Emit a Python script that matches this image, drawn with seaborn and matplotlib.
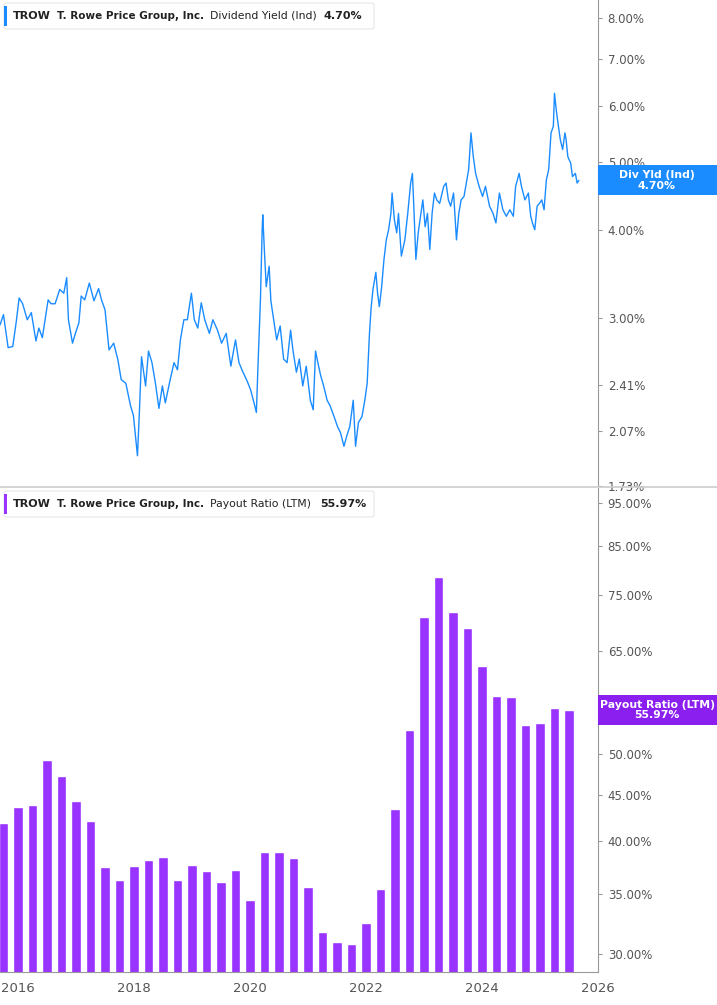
import matplotlib
matplotlib.use("Agg")
import matplotlib.pyplot as plt
import seaborn as sns
import pandas as pd
from matplotlib.ticker import FixedLocator, NullLocator, FixedFormatter

plt.rcParams["font.family"] = "Roboto"

yield_years = [2015.69, 2015.75, 2015.83, 2015.91, 2015.97, 2016.02, 2016.08, 2016.16, 2016.23, 2016.31, 2016.36, 2016.42, 2016.48, 2016.52, 2016.57, 2016.64, 2016.72, 2016.79, 2016.84, 2016.87, 2016.94, 2016.99, 2017.05, 2017.09, 2017.15, 2017.23, 2017.31, 2017.39, 2017.44, 2017.50, 2017.57, 2017.65, 2017.72, 2017.78, 2017.86, 2017.94, 2017.99, 2018.06, 2018.09, 2018.13, 2018.20, 2018.25, 2018.31, 2018.37, 2018.43, 2018.49, 2018.54, 2018.61, 2018.69, 2018.75, 2018.80, 2018.86, 2018.92, 2018.99, 2019.04, 2019.10, 2019.16, 2019.22, 2019.30, 2019.36, 2019.44, 2019.51, 2019.59, 2019.67, 2019.75, 2019.81, 2019.87, 2019.95, 2020.01, 2020.07, 2020.11, 2020.14, 2020.18, 2020.21, 2020.22, 2020.25, 2020.28, 2020.33, 2020.36, 2020.40, 2020.46, 2020.52, 2020.58, 2020.64, 2020.70, 2020.74, 2020.80, 2020.85, 2020.91, 2020.97, 2021.04, 2021.09, 2021.13, 2021.17, 2021.22, 2021.27, 2021.33, 2021.38, 2021.45, 2021.51, 2021.56, 2021.62, 2021.67, 2021.72, 2021.78, 2021.82, 2021.87, 2021.93, 2021.98, 2022.02, 2022.06, 2022.09, 2022.12, 2022.17, 2022.20, 2022.23, 2022.27, 2022.31, 2022.35, 2022.39, 2022.43, 2022.45, 2022.49, 2022.53, 2022.56, 2022.61, 2022.67, 2022.72, 2022.77, 2022.80, 2022.82, 2022.86, 2022.90, 2022.94, 2022.98, 2023.02, 2023.06, 2023.10, 2023.14, 2023.18, 2023.22, 2023.27, 2023.34, 2023.38, 2023.42, 2023.46, 2023.51, 2023.56, 2023.60, 2023.64, 2023.69, 2023.73, 2023.77, 2023.81, 2023.85, 2023.89, 2023.95, 2024.01, 2024.06, 2024.13, 2024.19, 2024.24, 2024.30, 2024.36, 2024.42, 2024.48, 2024.54, 2024.58, 2024.64, 2024.68, 2024.74, 2024.80, 2024.84, 2024.87, 2024.91, 2024.95, 2024.99, 2025.03, 2025.07, 2025.11, 2025.15, 2025.19, 2025.23, 2025.25, 2025.28, 2025.31, 2025.35, 2025.39, 2025.43, 2025.45, 2025.48, 2025.53, 2025.56, 2025.61, 2025.64, 2025.67]

yield_values = [2.93, 3.03, 2.72, 2.73, 2.96, 3.20, 3.14, 2.98, 3.05, 2.78, 2.90, 2.81, 3.03, 3.18, 3.14, 3.14, 3.29, 3.25, 3.42, 2.98, 2.76, 2.85, 2.95, 3.22, 3.18, 3.36, 3.17, 3.30, 3.18, 3.08, 2.70, 2.76, 2.62, 2.45, 2.42, 2.25, 2.18, 1.91, 2.17, 2.64, 2.40, 2.69, 2.59, 2.42, 2.23, 2.40, 2.27, 2.42, 2.59, 2.53, 2.79, 2.98, 2.98, 3.25, 2.98, 2.90, 3.15, 2.98, 2.85, 2.98, 2.88, 2.76, 2.85, 2.56, 2.79, 2.59, 2.52, 2.44, 2.37, 2.27, 2.20, 2.59, 3.18, 4.00, 4.20, 3.71, 3.32, 3.55, 3.17, 3.01, 2.79, 2.92, 2.62, 2.59, 2.88, 2.70, 2.51, 2.62, 2.40, 2.56, 2.29, 2.22, 2.69, 2.59, 2.48, 2.40, 2.29, 2.25, 2.17, 2.10, 2.06, 1.97, 2.04, 2.10, 2.29, 1.97, 2.13, 2.17, 2.29, 2.42, 2.85, 3.11, 3.29, 3.48, 3.25, 3.11, 3.32, 3.63, 3.87, 4.00, 4.22, 4.51, 4.13, 3.96, 4.22, 3.67, 3.87, 4.22, 4.66, 4.81, 4.41, 3.63, 3.96, 4.18, 4.41, 4.04, 4.22, 3.75, 4.22, 4.51, 4.41, 4.36, 4.61, 4.66, 4.41, 4.32, 4.51, 3.87, 4.22, 4.41, 4.46, 4.66, 4.87, 5.49, 5.08, 4.81, 4.61, 4.46, 4.61, 4.32, 4.22, 4.09, 4.51, 4.27, 4.18, 4.27, 4.18, 4.61, 4.81, 4.61, 4.41, 4.51, 4.18, 4.09, 4.00, 4.32, 4.36, 4.41, 4.27, 4.71, 4.87, 5.49, 5.61, 6.25, 5.92, 5.67, 5.37, 5.20, 5.49, 5.37, 5.08, 4.97, 4.76, 4.81, 4.66, 4.70]

payout_quarters = [2015.75 + 0.25 * i for i in range(40)]
payout_values = [41.9, 43.7, 43.9, 49.2, 47.3, 44.4, 42.1, 37.5, 36.2, 37.6,
                 38.1, 38.4, 36.2, 37.7, 37.1, 36.1, 37.2, 34.4, 38.9, 38.9,
                 38.3, 35.6, 31.7, 30.9, 30.8, 32.5, 35.4, 43.4, 53.2, 71.0,
                 78.6, 71.9, 69.0, 62.7, 58.0, 57.9, 53.9, 54.1, 56.3, 55.97]

yield_ticks = [1.73, 2.07, 2.41, 3.00, 4.00, 5.00, 6.00, 7.00, 8.00]
payout_ticks = [30, 35, 40, 45, 50, 65, 75, 85, 95]
x_ticks = [2016, 2018, 2020, 2022, 2024, 2026]

BLUE = "#1a8cff"
PURPLE = "#9933ff"
PURPLE_LBL = "#8a1ff0"
GREY = "#555555"

sns.set_style("white")
fig = plt.figure(figsize=(7.17, 10.05), dpi=100)
W, H = 717, 1005
ax1 = fig.add_axes([0, 1 - 486 / H, 598 / W, 486 / H])
ax2 = fig.add_axes([0, 1 - 972 / H, 598 / W, (972 - 488) / H])

df1 = pd.DataFrame({"year": yield_years, "val": yield_values})
sns.lineplot(data=df1, x="year", y="val", ax=ax1, color=BLUE, linewidth=1.0)
ax1.set_yscale("log")
ax1.set_ylim(1.73, 8.48)
ax1.set_xlim(2015.69, 2026.0)

ax2.bar(payout_quarters, payout_values, width=0.16, color=PURPLE, bottom=0)
ax2.set_yscale("log")
ax2.set_ylim(28.65, 98.7)
ax2.set_xlim(2015.69, 2026.0)

for ax, ticks in [(ax1, yield_ticks), (ax2, payout_ticks)]:
    ax.yaxis.tick_right()
    ax.yaxis.set_major_locator(FixedLocator(ticks))
    ax.yaxis.set_major_formatter(FixedFormatter(["{:.2f}%".format(t) for t in ticks]))
    ax.yaxis.set_minor_locator(NullLocator())
    ax.tick_params(axis="y", length=3, width=0.8, color="#999999", labelsize=8.5,
                   labelcolor=GREY, pad=4)
    ax.set_xlabel("")
    ax.set_ylabel("")
    for s in ["left", "top"]:
        ax.spines[s].set_visible(False)
    ax.spines["right"].set_color("#999999")
    ax.spines["right"].set_linewidth(0.8)

ax1.spines["bottom"].set_visible(False)
ax1.set_xticks([])
ax2.spines["bottom"].set_color("#999999")
ax2.set_xticks(x_ticks)
ax2.set_xticklabels([str(t) for t in x_ticks])
ax2.tick_params(axis="x", length=4, color="#999999", labelsize=9.5, labelcolor=GREY)

fig.add_artist(plt.Line2D([0, 1], [1 - 487 / H, 1 - 487 / H], color="#cccccc", lw=1.2,
                          transform=fig.transFigure))

def header(y_px, color, label, value, value_x):
    x0 = 4 / W
    fig.patches.append(matplotlib.patches.FancyBboxPatch(
        (x0, 1 - (y_px + 13) / H), 370 / W, 26 / H, boxstyle="round,pad=0,rounding_size=0.003",
        transform=fig.transFigure, facecolor="white", edgecolor="#e6e6e6", lw=0.8))
    fig.patches.append(matplotlib.patches.Rectangle(
        (x0, 1 - (y_px + 10) / H), 3 / W, 20 / H, transform=fig.transFigure,
        facecolor=color, edgecolor="none"))
    y = 1 - y_px / H
    kw = dict(color="#222222", va="center")
    fig.text(13 / W, y, "TROW", fontweight="bold", fontsize=8, **kw)
    fig.text(57 / W, y, "T. Rowe Price Group, Inc.", fontweight="semibold", fontsize=7.5, **kw)
    fig.text(210 / W, y, label, fontsize=7.8, **kw)
    fig.text(value_x / W, y, value, fontweight="bold", fontsize=8, **kw)

header(16, BLUE, "Dividend Yield (Ind)", "4.70%", 324)
header(504, PURPLE, "Payout Ratio (LTM)", "55.97%", 320)

def side_label(ax, value, color, text):
    yfig = ax.transData.transform((2020, value))[1] / fig.bbox.height
    hgt = 30 / H
    fig.patches.append(matplotlib.patches.Rectangle(
        (598 / W, yfig - hgt / 2), 119 / W, hgt, transform=fig.transFigure,
        facecolor=color, edgecolor="none", zorder=5))
    fig.text(657 / W, yfig, text, fontsize=7.8, fontweight="bold", color="white",
             ha="center", va="center", zorder=6, linespacing=1.1)

side_label(ax1, 4.70, BLUE, "Div Yld (Ind)\n4.70%")
side_label(ax2, 55.97, PURPLE_LBL, "Payout Ratio (LTM)\n55.97%")

fig.savefig("out.png", dpi=100)
